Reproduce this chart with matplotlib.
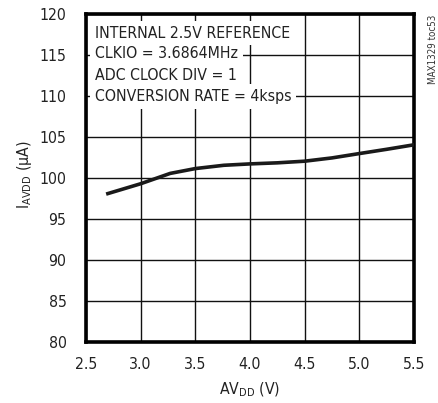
import matplotlib
matplotlib.use("Agg")
import matplotlib.pyplot as plt
from matplotlib import font_manager

avdd = [2.7, 3.0, 3.27, 3.5, 3.76, 4.0, 4.25, 4.5, 4.75, 5.0, 5.25, 5.5]
iavdd = [98.1, 99.3, 100.56, 101.15, 101.55, 101.72, 101.85, 102.05, 102.45, 102.98, 103.5, 104.05]
xticks = [2.5, 3.0, 3.5, 4.0, 4.5, 5.0, 5.5]
yticks = [80, 85, 90, 95, 100, 105, 110, 115, 120]
notes = ["INTERNAL 2.5V REFERENCE", "CLKIO = 3.6864MHz", "ADC CLOCK DIV = 1", "CONVERSION RATE = 4ksps"]

files = [f.fname for f in font_manager.fontManager.ttflist]
narrow = [p for p in files if ('Narrow' in p or 'Condensed' in p) and 'Bold' not in p and 'Oblique' not in p and 'Italic' not in p]
prefer = [p for p in narrow if 'LiberationSansNarrow-Regular' in p] + [p for p in narrow if 'DejaVuSansCondensed.ttf' in p] + narrow
if prefer:
    fp = prefer[0]
    font_manager.fontManager.addfont(fp)
    fam = font_manager.FontProperties(fname=fp).get_name()
    stretch = 'condensed'
    fs = 11.3
else:
    fam = 'Liberation Sans'
    stretch = 'normal'
    fs = 10.5

plt.rcParams['font.family'] = [fam, 'DejaVu Sans']
plt.rcParams['font.stretch'] = stretch
plt.rcParams['mathtext.fontset'] = 'custom'
plt.rcParams['mathtext.rm'] = fam

W, H = 438, 403
fig = plt.figure(figsize=(W/100, H/100), dpi=100)
ax = fig.add_axes([86/W, 1-342/H, (414-86)/W, (342-14)/H])

ax.set_xlim(2.5, 5.5)
ax.set_ylim(80, 120)
ax.set_xticks(xticks)
ax.set_xticklabels([f"{v:.1f}" for v in xticks])
ax.set_yticks(yticks)
ax.set_yticklabels([str(v) for v in yticks])
ax.tick_params(length=0, labelsize=fs, colors='#222222')
ax.tick_params(axis='x', pad=11)
ax.tick_params(axis='y', pad=14)
ax.grid(True, color='#111111', linewidth=1.0)
ax.set_axisbelow(True)
for s in ax.spines.values():
    s.set_linewidth(2.6)
    s.set_color('#000000')

ax.plot(avdd, iavdd, color='#1a1a1a', linewidth=2.6, zorder=3)

ys = [33, 54, 75, 96.5]
for t, y in zip(notes, ys):
    fig.text(95/W, 1-y/H, t, fontsize=fs, ha='left', va='center', color='#222222',
             bbox=dict(facecolor='white', edgecolor='none', pad=3.5), zorder=5)

fig.text(433/W, 1-15/H, "MAX1329 toc53", rotation=90, fontsize=7, ha='center', va='top', color='#333333')

fig.text(250/W, 1-390/H, r"AV$_{\mathrm{DD}}$ (V)", fontsize=fs, ha='center', va='center', color='#222222')
fig.text(25/W, 1-175/H, r"I$_{\mathrm{AVDD}}$ (µA)", fontsize=fs, rotation=90, ha='center', va='center', color='#222222')

fig.savefig("out.png", dpi=100)
